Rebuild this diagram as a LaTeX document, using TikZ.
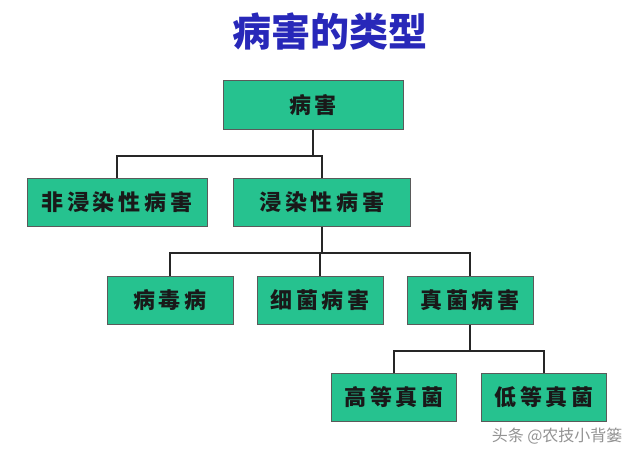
\documentclass[tikz,border=0pt]{standalone}
\usepackage{fontspec}
\newfontfamily\cjk[LetterSpace=18]{Noto Sans CJK SC}
\newfontfamily\cjktitle{Noto Sans CJK SC}
\newfontfamily\cjkmark{Noto Sans CJK SC}
\definecolor{boxgreen}{RGB}{38,194,143}
\definecolor{boxedge}{RGB}{90,90,90}
\definecolor{titleblue}{RGB}{40,40,185}
\begin{document}
\begin{tikzpicture}[x=1pt,y=-1pt,
  box/.style={draw=boxedge,line width=1pt,fill=boxgreen,minimum height=48pt,
    inner sep=0pt,text=black!90,font=\cjk\bfseries\fontsize{22}{22}\selectfont},
  link/.style={draw=black!85,line width=1.8pt}]
\useasboundingbox[fill=white] (0,0) rectangle (640,452);
% title
\node[text=titleblue,font=\cjktitle\bfseries\fontsize{39}{39}\selectfont] (title) at (330,32) {病害的类型};
% boxes
\node[box,minimum width=180pt] (root) at (313,105) {病害};
\node[box,minimum width=180pt] (non) at (117,202) {非浸染性病害};
\node[box,minimum width=177pt] (inf) at (322,202) {浸染性病害};
\node[box,minimum width=126pt] (virus) at (170,300) {病毒病};
\node[box,minimum width=126pt] (bact) at (320,300) {细菌病害};
\node[box,minimum width=126pt] (fungi) at (470,300) {真菌病害};
\node[box,minimum width=125pt] (high) at (394,397) {高等真菌};
\node[box,minimum width=125pt] (low) at (544,397) {低等真菌};
% connectors
\coordinate (j1) at (313,156);
\coordinate (j2) at (322,253);
\coordinate (j3) at (470,351);
\draw[link] (root.south) -- (j1);
\draw[link] (non.north) |- (j1) -| (inf.north);
\draw[link] (inf.south) -- (j2);
\draw[link] (virus.north) |- (j2) -| (fungi.north);
\draw[link] (bact.north) -- (bact.north |- j2);
\draw[link] (fungi.south) -- (j3);
\draw[link] (high.north) |- (j3) -| (low.north);
% watermark
\node[anchor=east,text=gray!85,font=\cjkmark\fontsize{16}{16}\selectfont] (mark) at (626,436) {头条 @农技小背篓};
\end{tikzpicture}
\end{document}
